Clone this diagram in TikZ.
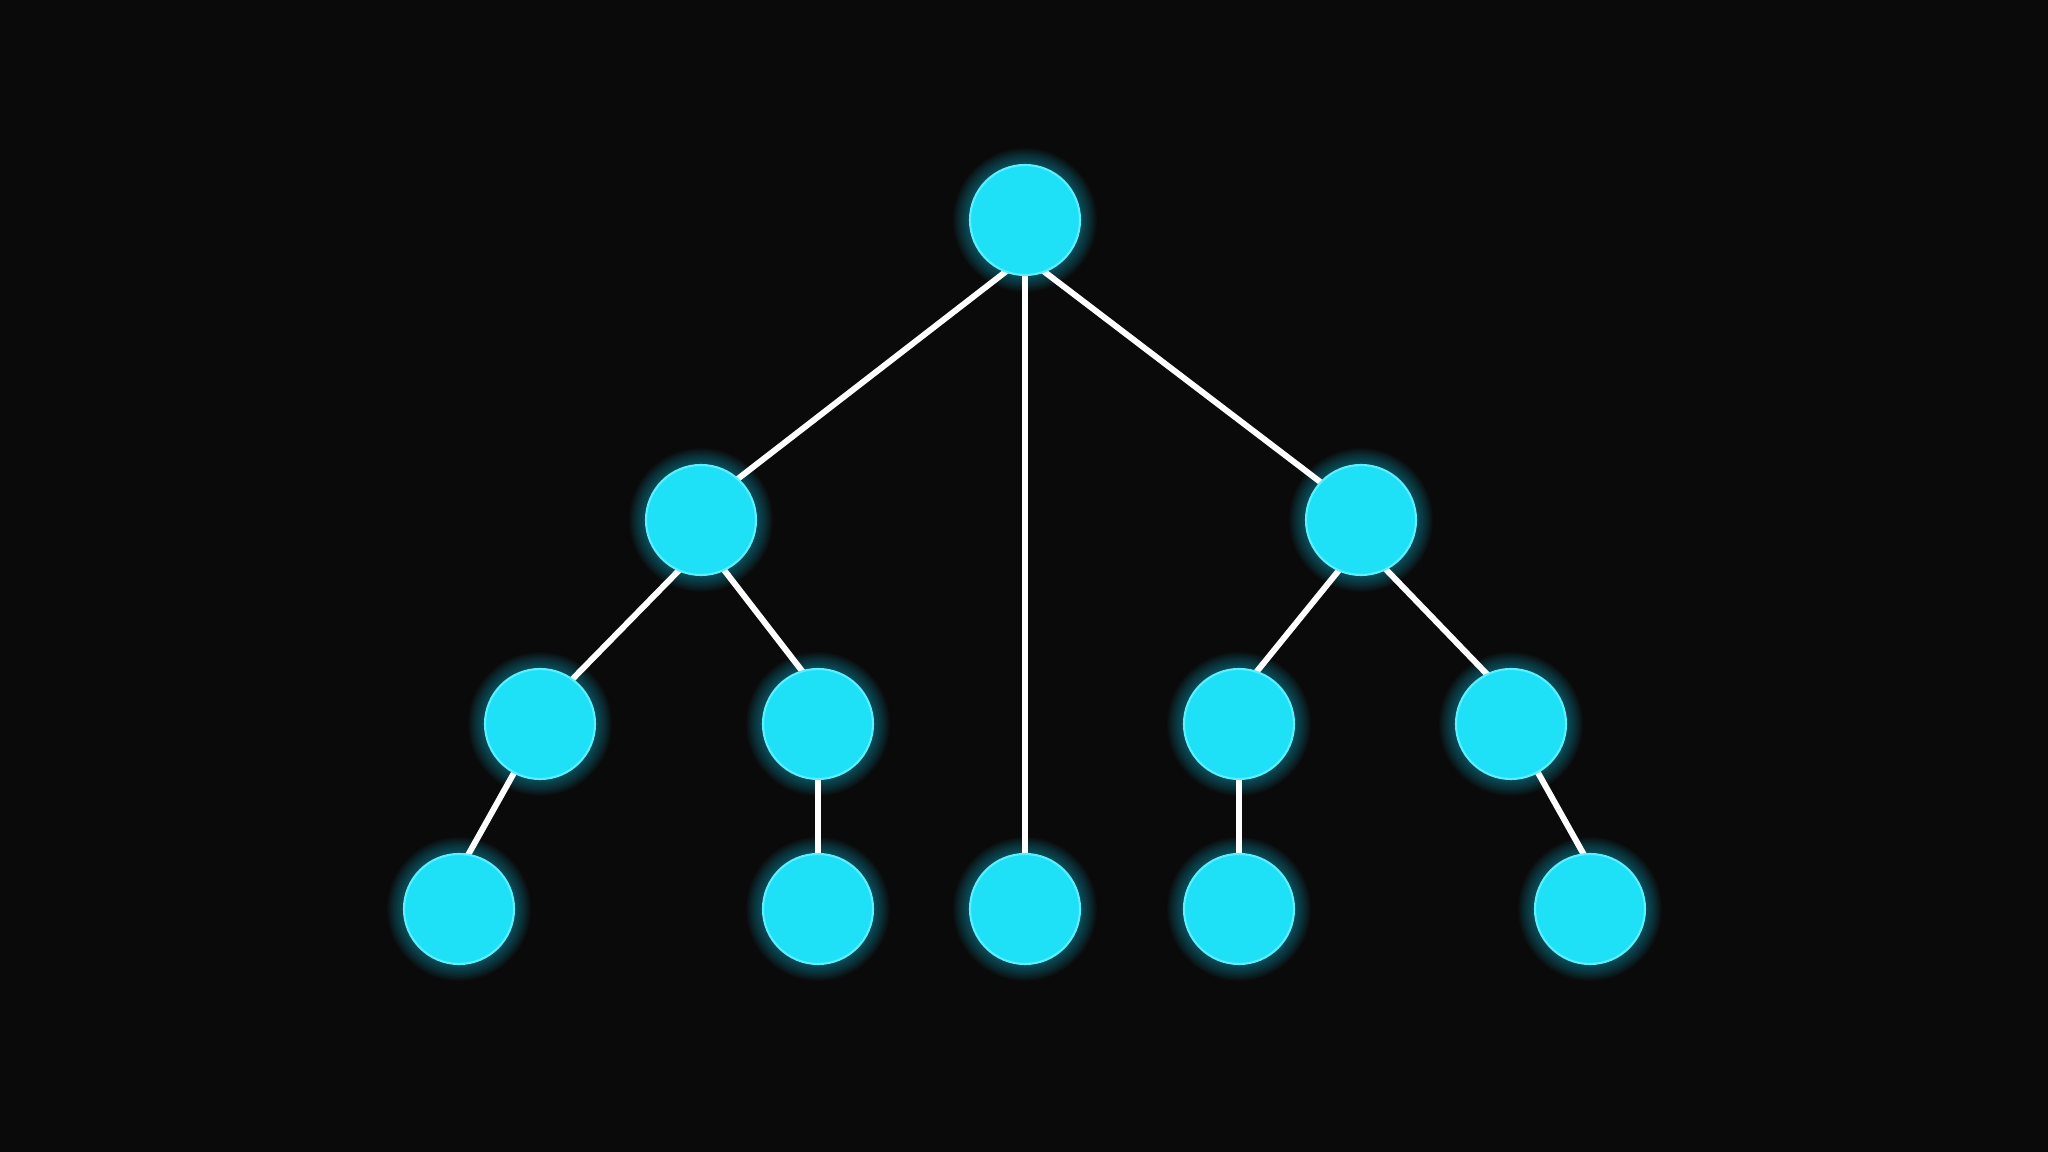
\documentclass[tikz,border=0pt]{standalone}
\definecolor{bgc}{HTML}{0A0A0A}
\definecolor{nodec}{HTML}{1EE0F6}
\definecolor{rimc}{HTML}{5CF0FF}
\definecolor{glowc}{HTML}{14B8D8}
\pgfdeclarelayer{back}
\pgfdeclarelayer{glow}
\pgfdeclarelayer{edges}
\pgfsetlayers{back,glow,edges,main}
\tikzset{
  tnode/.style={circle, fill=nodec, minimum size=1.1cm, inner sep=0pt, draw=rimc, line width=0.6pt},
  edge/.style={draw=white, line width=1.7pt, shorten <=-2pt, shorten >=-2pt}
}
\begin{document}
\begin{tikzpicture}
\begin{pgfonlayer}{back}
\fill[bgc] (0,0) rectangle (20.48,11.52);
\end{pgfonlayer}
\useasboundingbox (0,0) rectangle (20.48,11.52);
\node[tnode] (r) at (10.25,9.32) {};
\node[tnode] (a) at (7.01,6.32) {};
\node[tnode] (b) at (13.61,6.32) {};
\node[tnode] (a1) at (5.40,4.28) {};
\node[tnode] (a2) at (8.18,4.28) {};
\node[tnode] (b1) at (12.39,4.28) {};
\node[tnode] (b2) at (15.11,4.28) {};
\node[tnode] (a11) at (4.59,2.43) {};
\node[tnode] (a21) at (8.18,2.43) {};
\node[tnode] (m) at (10.25,2.43) {};
\node[tnode] (b11) at (12.39,2.43) {};
\node[tnode] (b21) at (15.90,2.43) {};
\begin{pgfonlayer}{glow}
\foreach \n in {r,a,b,a1,a2,b1,b2,a11,a21,m,b11,b21}{
  \foreach \i in {1,...,12}{
    \fill[glowc, opacity=0.045] (\n.center) circle ({0.55cm+\i*0.014cm});
  }
}
\end{pgfonlayer}
\begin{pgfonlayer}{edges}
\draw[edge] (r.249) -- (a.48);
\draw[edge] (r.291) -- (b.137);
\draw[edge] (r.270) -- (m.90);
\draw[edge] (a.246) -- (a1.54);
\draw[edge] (a.295) -- (a2.107);
\draw[edge] (b.246) -- (b1.71);
\draw[edge] (b.297) -- (b2.116);
\draw[edge] (a1.242) -- (a11.80);
\draw[edge] (a2.270) -- (a21.90);
\draw[edge] (b1.270) -- (b11.90);
\draw[edge] (b2.299) -- (b21.97);
\end{pgfonlayer}
\end{tikzpicture}
\end{document}
